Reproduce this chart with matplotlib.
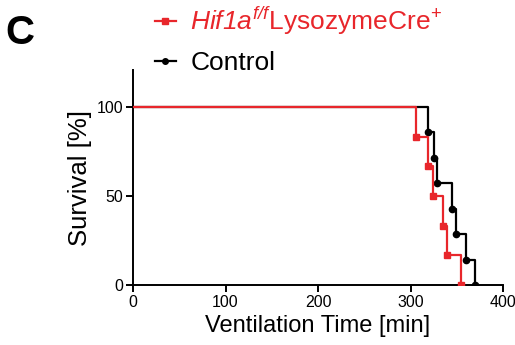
import matplotlib
matplotlib.use("Agg")
import matplotlib.pyplot as plt
from matplotlib.lines import Line2D

plt.rcParams['font.family'] = ['Liberation Sans', 'DejaVu Sans']
plt.rcParams['mathtext.fontset'] = 'custom'
plt.rcParams['mathtext.rm'] = 'Liberation Sans:italic'
plt.rcParams['mathtext.it'] = 'Liberation Sans:italic'
plt.rcParams['mathtext.sf'] = 'Liberation Sans'

# Data
hif_times = [0, 306, 319, 324, 335, 339, 355]
hif_surv = [100, 83.3, 66.7, 50.0, 33.3, 16.7, 0]
ctrl_times = [0, 319, 325, 329, 345, 349, 360, 370]
ctrl_surv = [100, 85.7, 71.4, 57.1, 42.9, 28.6, 14.3, 0]
xticks = [0, 100, 200, 300, 400]
yticks = [0, 50, 100]

RED = '#e8262b'
BLACK = '#000000'

W, H = 515, 345
fig = plt.figure(figsize=(W / 100, H / 100), dpi=100)
ax = fig.add_axes([133 / W, 1 - 285 / H, (503 - 133) / W, (285 - 70) / H])

ax.step(ctrl_times, ctrl_surv, where='post', color=BLACK, lw=1.6, zorder=3)
ax.plot(ctrl_times[1:], ctrl_surv[1:], 'o', color=BLACK, ms=4.5, zorder=4)
ax.step(hif_times, hif_surv, where='post', color=RED, lw=1.6, zorder=5)
ax.plot(hif_times[1:], hif_surv[1:], 's', color=RED, ms=4.5, zorder=6)

ax.set_xlim(0, 400)
ax.set_ylim(0, 120.8)
ax.set_xticks(xticks)
ax.set_yticks(yticks)
ax.tick_params(labelsize=11.5, width=1.4, length=5, direction='out', pad=2)
for s in ['top', 'right']:
    ax.spines[s].set_visible(False)
for s in ['left', 'bottom']:
    ax.spines[s].set_linewidth(1.4)
ax.spines['bottom'].set_position(('data', 0))
ax.set_ylabel('Survival [%]', fontsize=18.5, labelpad=3)
ax.set_xlabel('Ventilation Time [min]', fontsize=17, labelpad=4)

handles = [
    Line2D([], [], color=RED, lw=1.6, marker='s', ms=4),
    Line2D([], [], color=BLACK, lw=1.6, marker='o', ms=4),
]
labels = [r'$Hif1a^{f/f}$LysozymeCre$^{\mathsf{+}}$', 'Control']
leg = fig.legend(handles, labels, loc='upper left', bbox_to_anchor=(152 / W, 1 - 2 / H),
                 frameon=False, fontsize=19, handlelength=0.8, handletextpad=0.55,
                 labelspacing=0.55, borderaxespad=0, borderpad=0.1)
leg.get_texts()[0].set_color(RED)

fig.text(5 / W, 1 - 33 / H, 'C', fontsize=29, fontweight='bold', va='center', ha='left')

fig.savefig('out.png', dpi=100)
